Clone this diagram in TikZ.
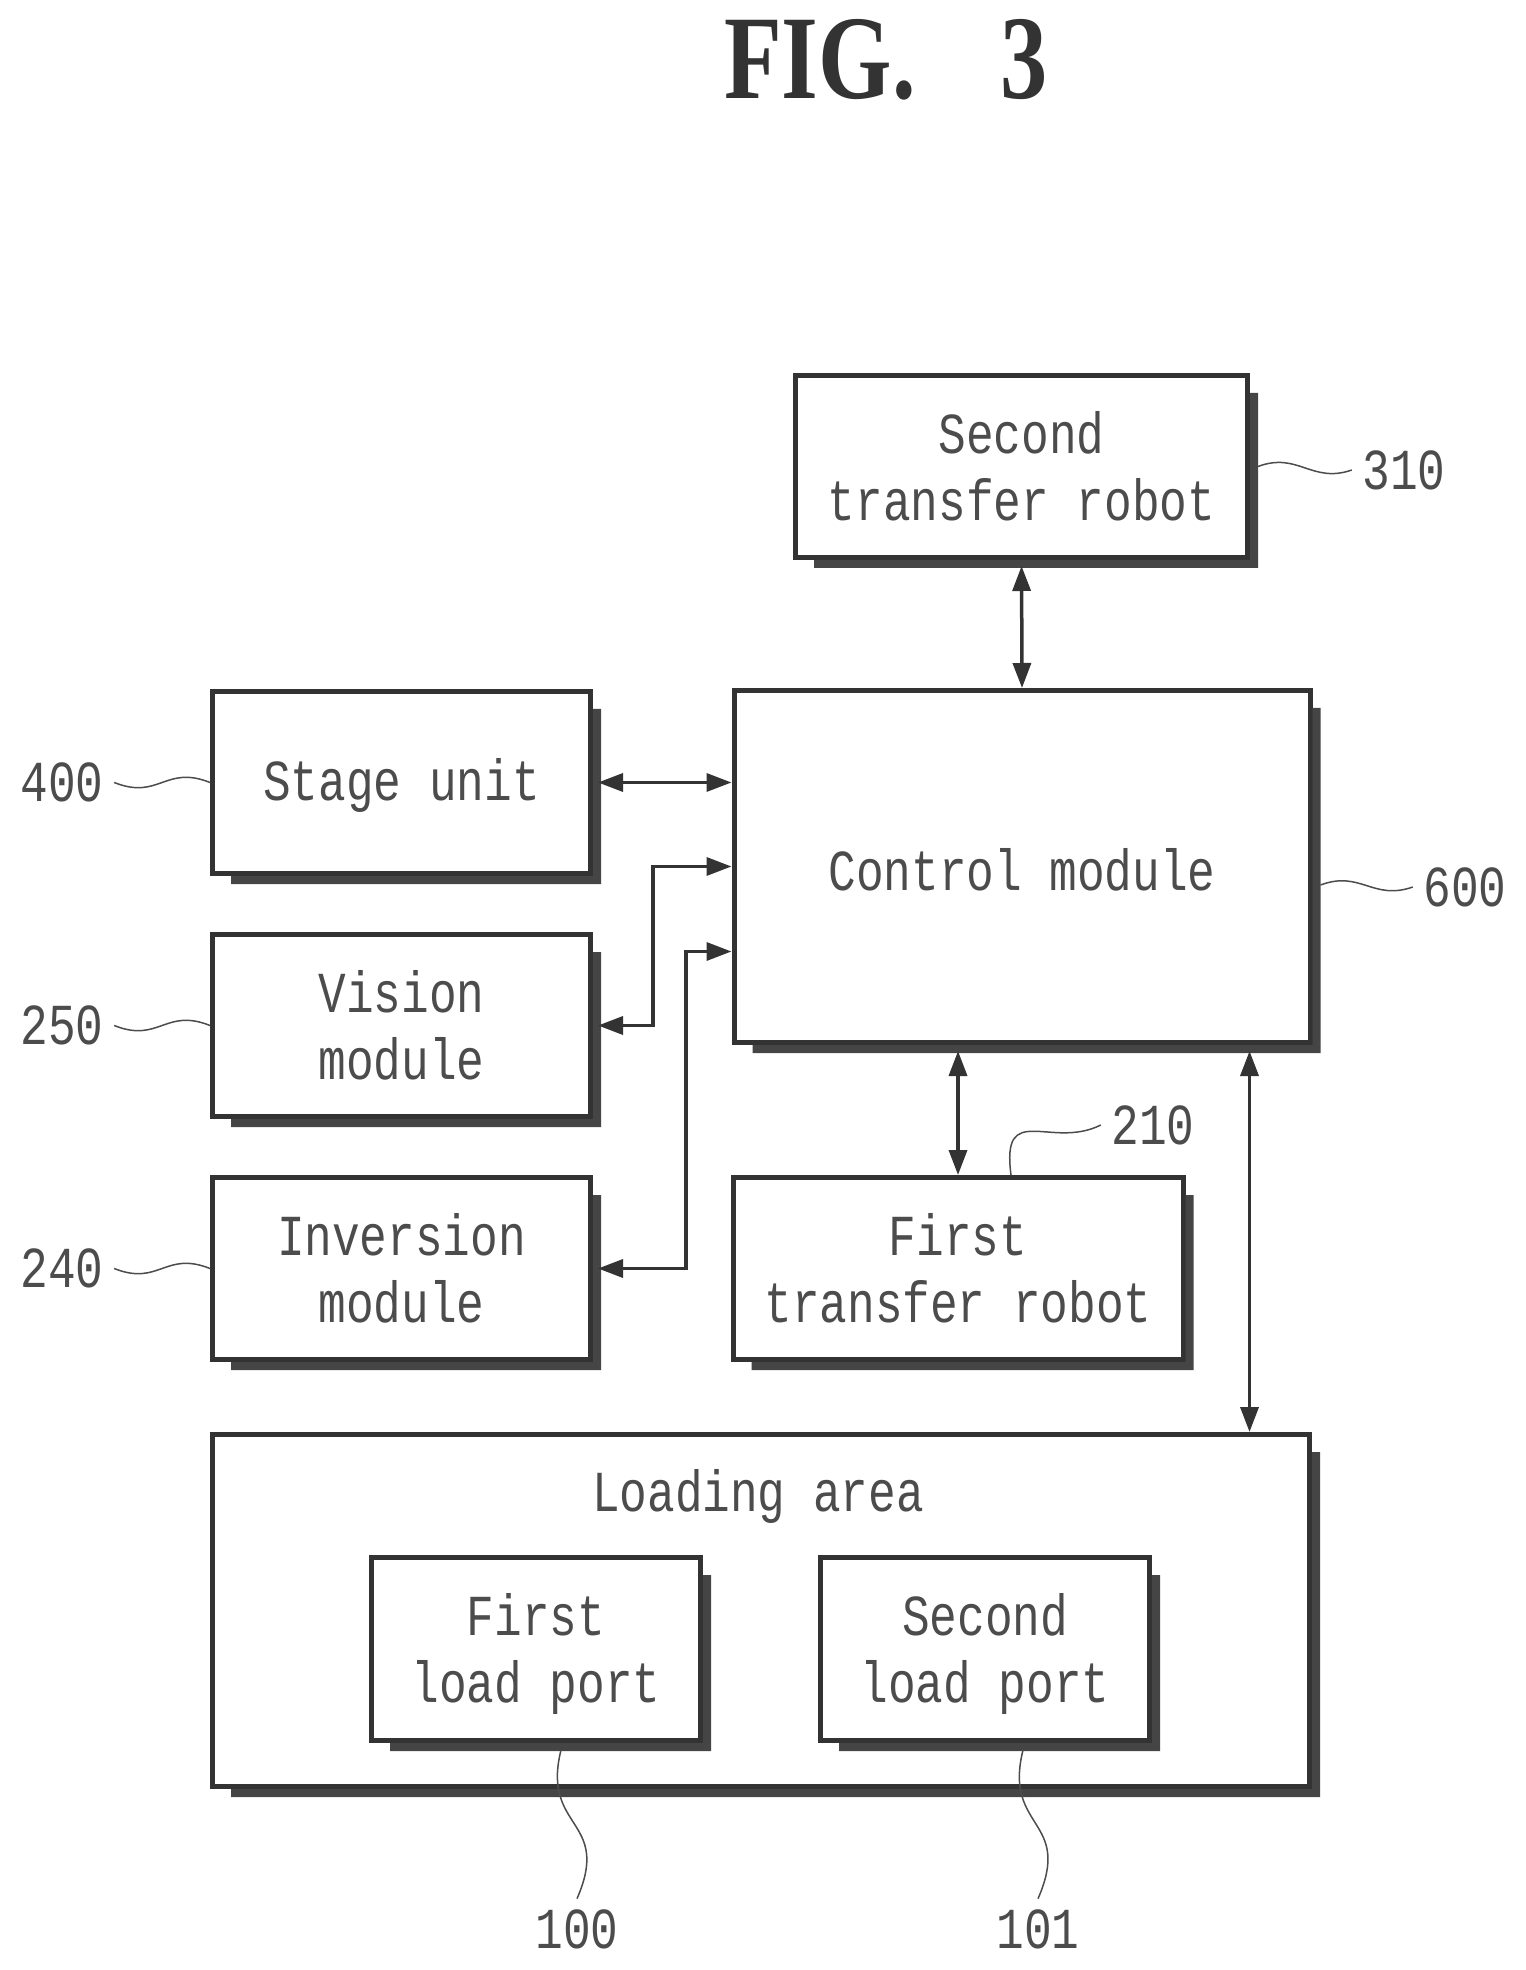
\documentclass[tikz,border=0pt]{standalone}
\usepackage{fontspec}
\setmainfont[FakeStretch=.795]{Liberation Mono}
\newfontfamily\titlefont[FakeStretch=.79]{Liberation Serif}
\usetikzlibrary{arrows.meta}
\definecolor{linegray}{rgb}{0.2, 0.2, 0.2}
\definecolor{shadegray}{rgb}{0.27, 0.27, 0.27}
\definecolor{textgray}{rgb}{0.3, 0.3, 0.3}
\newcommand{\portstrut}{\rule{0pt}{.525cm}}
\tikzstyle{sbox} = [rectangle,draw=linegray,line width=.05cm,text=textgray,align=center,inner sep=0pt,font=\fontsize{16.5}{19.06}\selectfont]
\tikzstyle{tall} = [sbox,minimum width=5.76cm,minimum height=3.52cm]
\tikzstyle{small} = [sbox,minimum width=3.78cm,minimum height=1.82cm]
\tikzstyle{robot} = [sbox,minimum width=4.5cm,minimum height=1.82cm]
\tikzstyle{port} = [sbox,minimum width=3.29cm,minimum height=1.83cm]
\tikzstyle{drop} = [execute at begin node={\rule{0pt}{.49cm}}]
\tikzstyle{refnum} = [text=textgray,inner sep=.1cm,font=\fontsize{16.5}{19.06}\selectfont]
\tikzstyle{link} = [{Triangle[length=.25cm,width=.18cm]}-{Triangle[length=.25cm,width=.18cm]},draw=linegray,line width=.035cm]
\tikzstyle{leader} = [draw=textgray,line width=.015cm]
\begin{document}
\begin{tikzpicture}
		\useasboundingbox (0,0) rectangle (15.25,-19.7);
		\node [text=linegray,font=\titlefont\bfseries\fontsize{34}{40}\selectfont](title) at (8.86,-.6){FIG.\hspace{.85cm}3};

		\node [robot,minimum width=4.52cm](second) at (10.215,-4.665){Second\\transfer robot};
		\node [tall,drop,below of=second,xshift=.005cm,yshift=-3cm](control){Control module};
		\node [small,drop,below of=control,xshift=-6.205cm,yshift=1.84cm](stage){Stage unit};
		\node [small,below of=stage,yshift=-1.43cm](vision){Vision\\module};
		\node [small,below of=vision,yshift=-1.43cm](inversion){Inversion\\module};
		\node [robot,below of=control,xshift=-.64cm,yshift=-3.02cm](firstrobot){First\\transfer robot};
		\node [tall,minimum width=10.97cm,below of=firstrobot,xshift=-1.97cm,yshift=-2.42cm](loading){};
		\node [port,below of=loading,xshift=-2.25cm,yshift=.615cm](portone){\portstrut First\\load port};
		\node [port,below of=loading,xshift=2.24cm,yshift=.615cm](porttwo){\portstrut Second\\load port};
		\node [text=textgray,inner sep=0pt,font=\fontsize{16.5}{19.06}\selectfont,above of=loading,xshift=-.03cm,yshift=.14cm](loadtext){Loading area};

		\foreach \n in {second,control,stage,vision,inversion,firstrobot,loading,portone,porttwo}
			\fill[shadegray] ([xshift=.21cm]\n.south west) -- ++(0,-.08) -| ([xshift=.08cm,yshift=-.2cm]\n.north east) -- ([yshift=-.2cm]\n.north east) -- (\n.south east) -- cycle;

		\node [refnum,right of=second,xshift=2.825cm,yshift=-.035cm](n310){310};
		\node [refnum,right of=control,xshift=3.43cm,yshift=-.205cm](n600){600};
		\node [refnum,left of=stage,xshift=-2.395cm,yshift=0cm](n400){400};
		\node [refnum,left of=vision,xshift=-2.395cm,yshift=0cm](n250){250};
		\node [refnum,left of=inversion,xshift=-2.395cm,yshift=0cm](n240){240};
		\node [refnum,above of=firstrobot,xshift=1.95cm,yshift=.435cm](n210){210};
		\node [refnum,below of=portone,xshift=.41cm,yshift=-1.8cm](n100){100};
		\node [refnum,below of=porttwo,xshift=.53cm,yshift=-1.8cm](n101){101};

		\draw[link,shorten <=.06cm](second.south)--(control.north);
		\draw[link,shorten <=.05cm](stage.east)--(stage.east -| control.west);
		\draw[link,shorten <=.05cm](vision.east)-- ++(.6,0) |- (control.west);
		\draw[link,shorten <=.05cm](inversion.east)-- ++(.93,0) |- ([yshift=-.85cm]control.west);
		\draw[link,shorten <=.06cm](firstrobot.north |- control.south)--(firstrobot.north);
		\draw[link,shorten <=.06cm]([xshift=-.63cm]control.south east)--([xshift=-.63cm]control.south east |- loading.north);

		\draw[leader]([xshift=.08cm]second.east) .. controls +(.4,.15) and +(-.4,-.14) .. (n310.west);
		\draw[leader]([xshift=.08cm,yshift=-.185cm]control.east) .. controls +(.4,.15) and +(-.4,-.14) .. (n600.west);
		\draw[leader](n400.east) .. controls +(.45,-.18) and +(-.45,.18) .. (stage.west);
		\draw[leader](n250.east) .. controls +(.45,-.18) and +(-.45,.18) .. (vision.west);
		\draw[leader](n240.east) .. controls +(.45,-.18) and +(-.45,.18) .. (inversion.west);
		\draw[leader]([xshift=.53cm]firstrobot.north) .. controls +(-.1,.75) and +(-.5,-.25) .. (n210.west);
		\draw[leader]([xshift=.25cm,yshift=-.07cm]portone.south) .. controls +(-.2,-.8) and +(.35,.8) .. (n100.north);
		\draw[leader]([xshift=.38cm,yshift=-.07cm]porttwo.south) .. controls +(-.2,-.8) and +(.35,.8) .. (n101.north);
\end{tikzpicture}
\end{document}
